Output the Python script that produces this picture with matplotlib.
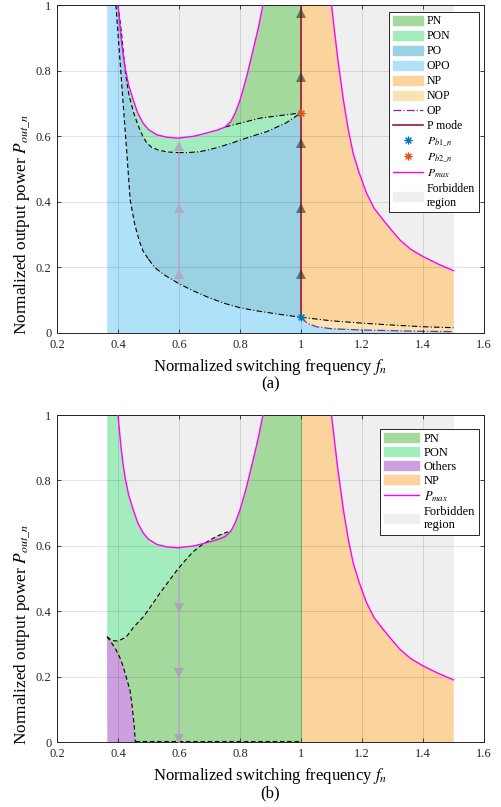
import numpy as np
import matplotlib
matplotlib.use('Agg')
import matplotlib.pyplot as plt
from matplotlib.patches import Patch
from matplotlib.lines import Line2D
from matplotlib.path import Path

plt.rcParams['font.family'] = ['Liberation Serif', 'DejaVu Serif']
plt.rcParams['mathtext.fontset'] = 'stix'

# ---------------- data ----------------
# P_max boundary (same in both panels)
pmax_left_f = [0.400, 0.405, 0.41, 0.416, 0.423, 0.435, 0.45, 0.465, 0.482, 0.50, 0.528, 0.56,
               0.597, 0.65, 0.70, 0.73, 0.751, 0.77, 0.784, 0.80, 0.82, 0.843, 0.86, 0.875]
pmax_left_p = [1.0, 0.95, 0.90, 0.855, 0.81, 0.755, 0.71, 0.67, 0.64, 0.62, 0.604, 0.597,
               0.594, 0.600, 0.612, 0.62, 0.628, 0.645, 0.67, 0.71, 0.775, 0.863, 0.93, 1.0]
pmax_right_f = [1.10, 1.11, 1.12, 1.139, 1.155, 1.171, 1.19, 1.215, 1.24, 1.27, 1.30, 1.325,
                1.36, 1.40, 1.45, 1.5]
pmax_right_p = [1.0, 0.92, 0.84, 0.71, 0.62, 0.548, 0.49, 0.426, 0.38, 0.344, 0.31, 0.283,
                0.255, 0.233, 0.21, 0.19]

# panel (a)
lower_f = [0.393, 0.405, 0.416, 0.428, 0.44, 0.455, 0.47, 0.482, 0.50, 0.52, 0.55, 0.6,
           0.65, 0.7, 0.75, 0.8, 0.85, 0.9, 0.95, 1.0]
lower_p = [1.0, 0.85, 0.71, 0.56, 0.405, 0.33, 0.28, 0.25, 0.225, 0.2, 0.178, 0.15,
           0.127, 0.107, 0.09, 0.077, 0.068, 0.061, 0.054, 0.048]
upper_f = [0.400, 0.406, 0.412, 0.418, 0.425, 0.435, 0.45, 0.465, 0.482, 0.494, 0.51, 0.532,
           0.56, 0.597, 0.63, 0.669, 0.70, 0.735, 0.77, 0.80, 0.85, 0.888, 0.95, 1.0]
upper_p = [1.0, 0.955, 0.91, 0.85, 0.79, 0.73, 0.675, 0.635, 0.598, 0.58, 0.566, 0.558,
           0.552, 0.55, 0.55, 0.553, 0.559, 0.568, 0.578, 0.588, 0.603, 0.614, 0.64, 0.671]
pnpon_f = [0.751, 0.866, 1.0]
pnpon_p = [0.628, 0.655, 0.671]
nop_f = [1.0, 1.1, 1.2, 1.3, 1.4, 1.5]
nop_p = [0.048, 0.037, 0.030, 0.024, 0.019, 0.016]
op_f = [1.0, 1.02, 1.05, 1.1, 1.2, 1.3, 1.4, 1.5]
op_p = [0.048, 0.030, 0.019, 0.013, 0.009, 0.007, 0.005, 0.004]
pb1 = (1.0, 0.048)
pb2 = (1.0, 0.671)
arrows_a_f1 = [0.18, 0.38, 0.58, 0.78, 0.975]
arrows_a_f06 = [0.18, 0.38, 0.57]

# panel (b)
diag_f = [0.364, 0.375, 0.385, 0.395, 0.407, 0.42, 0.43, 0.45, 0.465, 0.483, 0.51, 0.537,
          0.565, 0.592, 0.62, 0.646, 0.675, 0.702, 0.73, 0.76]
diag_p = [0.322, 0.314, 0.31, 0.309, 0.312, 0.318, 0.325, 0.35, 0.365, 0.383, 0.418, 0.455,
          0.49, 0.524, 0.555, 0.582, 0.603, 0.618, 0.632, 0.643]
oth_f = [0.364, 0.372, 0.379, 0.39, 0.40, 0.41, 0.417, 0.428, 0.439, 0.445, 0.45, 0.454, 0.456, 0.457]
oth_p = [0.322, 0.312, 0.303, 0.288, 0.27, 0.25, 0.23, 0.195, 0.159, 0.12, 0.077, 0.04, 0.006, 0.0]
arrows_b_f06 = [0.41, 0.21, 0.01]

f_min, f_max = 0.365, 1.5

# ---------------- styles ----------------
C_PN = '#a3d99a'
C_PON = '#a2ecbe'
C_PO = '#9ad2e4'
C_OPO = '#afe1fb'
C_NP = '#fbd39c'
C_NOP = '#f9e4b2'
C_OTH = '#cc9fdf'
C_FORB = '#efefef'
C_PMAX = '#ff00ff'
C_OP = '#7e2f8e'
C_PMODE = '#a2142f'
C_PB1 = '#0072bd'
C_PB2 = '#d95319'

# MATLAB-like asterisk marker
ast = Path([(-1, 0), (1, 0), (0, -1), (0, 1), (-0.7, -0.7), (0.7, 0.7), (-0.7, 0.7), (0.7, -0.7)],
           [Path.MOVETO, Path.LINETO] * 4)

fig = plt.figure(figsize=(5.01, 8.07), dpi=100)
axA = fig.add_axes([0.1138, 0.5874, 0.8523, 0.4064])
axB = fig.add_axes([0.1138, 0.0805, 0.8523, 0.4052])

DASH = dict(ls='--', dashes=(4, 2.5), color='k', lw=0.8)
DASHDOT = dict(ls='-.', dashes=(5, 2, 1, 2), color='k', lw=0.8)


def style_axes(ax, lab):
    ax.set_xlim(0.2, 1.6)
    ax.set_ylim(0, 1)
    ax.set_xticks(np.arange(0.2, 1.61, 0.2))
    ax.set_xticklabels(['0.2', '0.4', '0.6', '0.8', '1', '1.2', '1.4', '1.6'])
    ax.set_yticks(np.arange(0, 1.01, 0.2))
    ax.set_yticklabels(['0', '0.2', '0.4', '0.6', '0.8', '1'])
    ax.tick_params(direction='in', top=True, right=True, length=3, width=0.6,
                   labelsize=9, pad=4, colors='#262626')
    ax.set_axisbelow(False)
    ax.grid(True, color='black', alpha=0.13, lw=0.6)
    for s in ax.spines.values():
        s.set_color('#262626')
        s.set_linewidth(0.7)
    ax.set_xlabel('Normalized switching frequency $f_n$', fontsize=12)
    ax.xaxis.set_label_coords(0.5, -0.103)
    ax.xaxis.label.set_va('center')
    ax.set_ylabel('Normalized output power $P_{out\\_n}$', fontsize=12.4)
    ax.yaxis.set_label_coords(-0.08, 0.33)
    ax.yaxis.label.set_va('center')
    ax.text(0.5, -0.157, lab, transform=ax.transAxes, ha='center', va='center', fontsize=12)


# ---------------- panel (a) ----------------
ax = axA
ax.fill([f_min, f_max, f_max, f_min], [0, 0, 1, 1], color=C_FORB, lw=0, zorder=0.5)
# OPO
xs = [f_min, f_min] + lower_f + op_f + [f_max]
ys = [0, 1] + lower_p + op_p + [0]
ax.fill(xs, ys, color=C_OPO, lw=0, zorder=1)
# PO
xs = lower_f + upper_f[::-1]
ys = lower_p + upper_p[::-1]
ax.fill(xs, ys, color=C_PO, lw=0, zorder=1)
# PON
i_knee = pmax_left_f.index(0.751)
xs = upper_f + pnpon_f[::-1] + pmax_left_f[i_knee::-1]
ys = upper_p + pnpon_p[::-1] + pmax_left_p[i_knee::-1]
ax.fill(xs, ys, color=C_PON, lw=0, zorder=1)
# PN
xs = pmax_left_f[i_knee:] + [1.0] + pnpon_f[::-1]
ys = pmax_left_p[i_knee:] + [1.0] + pnpon_p[::-1]
ax.fill(xs, ys, color=C_PN, lw=0, zorder=1)
# NP
xs = nop_f + pmax_right_f[::-1] + [1.0]
ys = nop_p + pmax_right_p[::-1] + [1.0]
ax.fill(xs, ys, color=C_NP, lw=0, zorder=1)
# NOP
xs = nop_f + op_f[::-1]
ys = nop_p + op_p[::-1]
ax.fill(xs, ys, color=C_NOP, lw=0, zorder=1)

# boundaries
lf = np.array(lower_f); lp = np.array(lower_p)
ax.plot(lf[lf <= 0.5], lp[lf <= 0.5], zorder=2, **DASH)
ax.plot(lf[lf >= 0.5], lp[lf >= 0.5], zorder=2, **DASHDOT)
uf = np.array(upper_f); up = np.array(upper_p)
ax.plot(uf[uf <= 0.6], up[uf <= 0.6], zorder=2, **DASH)
ax.plot(uf[uf >= 0.597], up[uf >= 0.597], zorder=2, **DASHDOT)
ax.plot(pnpon_f, pnpon_p, zorder=2, **DASHDOT)
ax.plot(nop_f, nop_p, zorder=2, **DASHDOT)
ax.plot(op_f, op_p, '-.', color=C_OP, lw=0.9, zorder=2)
ax.plot(pmax_left_f, pmax_left_p, color=C_PMAX, lw=1.0, zorder=3)
ax.plot(pmax_right_f, pmax_right_p, color=C_PMAX, lw=1.0, zorder=3)
# trajectories
ax.plot([0.6, 0.6], [0.15, 0.55], color='#b2abc6', lw=1.1, zorder=3)
ax.plot([0.6] * len(arrows_a_f06), arrows_a_f06, '^', color='#b2abc6', ms=7, mew=0, zorder=3.2)
ax.plot([1.0, 1.0], [pb1[1], 1.0], color=C_PMODE, lw=1.2, zorder=3)
ax.plot([1.0] * len(arrows_a_f1), arrows_a_f1, '^', color='#303030', alpha=0.6, ms=7, mew=0, zorder=3.3)
ax.plot(*pb1, marker=ast, color=C_PB1, ms=6, mew=1.0, zorder=4)
ax.plot(*pb2, marker=ast, color=C_PB2, ms=6, mew=1.0, zorder=4)
style_axes(ax, '(a)')

handles = [Patch(color=C_PN, label='PN'), Patch(color=C_PON, label='PON'),
           Patch(color=C_PO, label='PO'), Patch(color=C_OPO, label='OPO'),
           Patch(color=C_NP, label='NP'), Patch(color=C_NOP, label='NOP'),
           Line2D([], [], ls='-.', color=C_OP, lw=0.9, label='OP'),
           Line2D([], [], color=C_PMODE, lw=1.2, label='P mode'),
           Line2D([], [], ls='none', marker=ast, color=C_PB1, ms=6, mew=1.0, label='$P_{b1\\_n}$'),
           Line2D([], [], ls='none', marker=ast, color=C_PB2, ms=6, mew=1.0, label='$P_{b2\\_n}$'),
           Line2D([], [], color=C_PMAX, lw=1.0, label='$P_{max}$'),
           Patch(color=C_FORB, label='Forbidden\nregion')]
leg = ax.legend(handles=handles, loc='upper left', bbox_to_anchor=(0.778, 0.979),
                fontsize=8.5, frameon=True, fancybox=False, edgecolor='#262626',
                framealpha=1, borderpad=0.3, labelspacing=0.25, handlelength=2.6,
                handleheight=0.8, handletextpad=0.3, borderaxespad=0)
leg.get_frame().set_linewidth(0.7)
leg.set_zorder(10)

# ---------------- panel (b) ----------------
ax = axB
ax.fill([f_min, f_max, f_max, f_min], [0, 0, 1, 1], color=C_FORB, lw=0, zorder=0.5)
pl_f = np.array(pmax_left_f); pl_p = np.array(pmax_left_p)
knee_b = diag_f[-1]
# PON: left strip and above diagonal up to Pmax
xs = [f_min, f_min] + list(pl_f[pl_f < knee_b]) + diag_f[::-1]
ys = [diag_p[0], 1.0] + list(pl_p[pl_f < knee_b]) + diag_p[::-1]
ax.fill(xs, ys, color=C_PON, lw=0, zorder=1)
# PN
xs = diag_f + list(pl_f[pl_f > knee_b]) + [1.0, 1.0] + oth_f[::-1]
ys = diag_p + list(pl_p[pl_f > knee_b]) + [1.0, 0.0] + oth_p[::-1]
ax.fill(xs, ys, color=C_PN, lw=0, zorder=1)
# Others
xs = [f_min] + oth_f
ys = [0.0] + oth_p
ax.fill(xs, ys, color=C_OTH, lw=0, zorder=1)
# NP
xs = [1.0, f_max] + pmax_right_f[::-1] + [1.0]
ys = [0.0, 0.0] + pmax_right_p[::-1] + [1.0]
ax.fill(xs, ys, color=C_NP, lw=0, zorder=1)
ax.plot([1.0, 1.0], [0, 1], color='#8cc486', lw=0.8, zorder=1.5)

ax.plot(diag_f, diag_p, zorder=2, **DASH)
ax.plot(oth_f, oth_p, zorder=2, **DASH)
ax.plot([oth_f[-1], 1.0], [0.002, 0.002], zorder=2, **DASH)
ax.plot(pmax_left_f, pmax_left_p, color=C_PMAX, lw=1.0, zorder=3)
ax.plot(pmax_right_f, pmax_right_p, color=C_PMAX, lw=1.0, zorder=3)
ax.plot([0.6, 0.6], [0.0, 0.524], color='#b2abc6', lw=1.1, zorder=3)
ax.plot([0.6] * len(arrows_b_f06), arrows_b_f06, 'v', color='#aaa4bb', ms=7, mew=0, zorder=3.2)
style_axes(ax, '(b)')

handles_b = [Patch(color=C_PN, label='PN'), Patch(color=C_PON, label='PON'),
             Patch(color=C_OTH, label='Others'), Patch(color=C_NP, label='NP'),
             Line2D([], [], color=C_PMAX, lw=1.0, label='$P_{max}$'),
             Patch(color=C_FORB, label='Forbidden\nregion')]
leg = ax.legend(handles=handles_b, loc='upper left', bbox_to_anchor=(0.756, 0.957),
                fontsize=9, frameon=True, fancybox=False, edgecolor='#262626',
                framealpha=1, borderpad=0.3, labelspacing=0.15, handlelength=2.8,
                handleheight=0.8, handletextpad=0.4, borderaxespad=0)
leg.get_frame().set_linewidth(0.7)
leg.set_zorder(10)

fig.savefig('out.png', dpi=100)
